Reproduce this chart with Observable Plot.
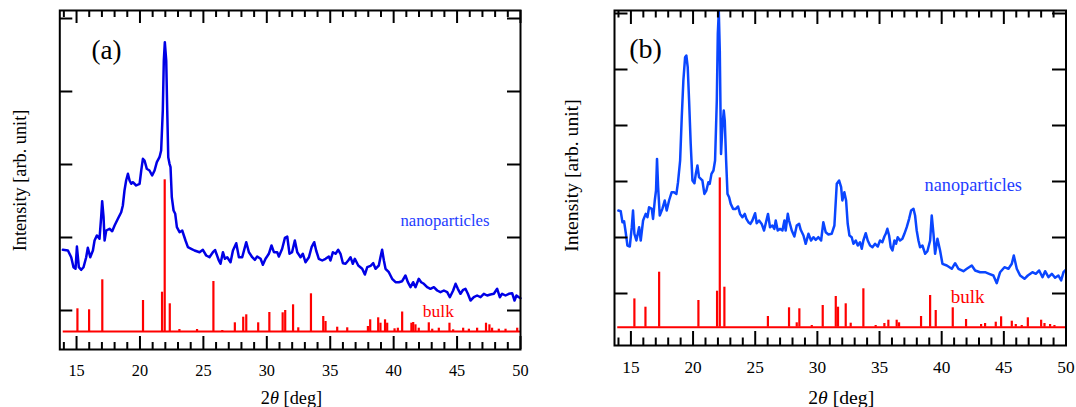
<!DOCTYPE html>
<html><head><meta charset="utf-8">
<script src="https://cdn.jsdelivr.net/npm/d3@7"></script>
<script src="https://cdn.jsdelivr.net/npm/@observablehq/plot@0.6"></script>
<style>
body{margin:0;background:#fff;}
#wrap{position:relative;width:1076px;height:407px;overflow:hidden;background:#fff;}
#wrap svg{position:absolute;top:0;font-family:'Liberation Serif','Times New Roman',serif;}
#wrap svg text{font-family:'Liberation Serif','Times New Roman',serif;}
</style></head><body><div id="wrap"></div>
<script>
// x axis (2θ in degrees)
const majorTicks = [15,20,25,30,35,40,45,50];
const minorTicks = [14,16,17,18,19,21,22,23,24,26,27,28,29,31,32,33,34,36,37,38,39,41,42,43,44,46,47,48,49];
const tickLabels = ["15","20","25","30","35","40","45","50"];

// Panel (a): nanoparticles pattern [2θ, intensity]
const nanoA = [[13.92,81.7],[14.32,81],[14.58,74.3],[14.76,64.3],[14.92,62.7],[15.03,85],[15.18,64.3],[15.37,61.7],[15.55,64.3],[15.76,74.3],[15.89,83.7],[16.08,74.3],[16.29,81],[16.42,91],[16.6,96],[16.81,92.7],[16.94,114.3],[17.02,130.3],[17.13,114.3],[17.21,91],[17.34,101],[17.6,102.7],[17.81,100.3],[18,106],[18.26,112.7],[18.52,119.3],[18.65,126],[18.78,141],[18.91,151],[19.05,157.7],[19.18,151],[19.31,147.7],[19.44,149.3],[19.7,146],[19.97,147.7],[20.1,161],[20.23,172.7],[20.36,171],[20.54,162.7],[20.75,161],[20.96,156],[21.15,161],[21.33,169.3],[21.54,174.3],[21.67,181],[21.8,221],[21.88,271],[21.96,289.3],[22.07,271],[22.15,221],[22.23,174.3],[22.33,167.7],[22.41,164.3],[22.51,134.3],[22.65,121],[22.78,117.7],[22.91,104.3],[23.12,99.3],[23.33,101],[23.59,91],[23.78,84.3],[24.04,82.7],[24.3,81],[24.7,79.3],[24.96,81.7],[25.22,76],[25.48,74.3],[25.75,79.3],[25.92,81.5],[26.22,71],[26.35,67.7],[26.54,79.3],[26.7,72.7],[26.88,74.3],[27.14,69.3],[27.33,81],[27.59,88.3],[27.8,74.3],[28.06,74.3],[28.38,89.3],[28.59,79.3],[28.85,74.3],[29.06,71.7],[29.24,75],[29.51,72.7],[29.69,66.7],[29.9,72.7],[30.16,77.7],[30.37,86],[30.56,79.3],[30.82,79.3],[30.95,75],[31.21,82.7],[31.43,93.7],[31.61,95],[31.79,77.7],[31.99,79.3],[32.21,91],[32.4,79.3],[32.66,74.3],[32.84,77.7],[33.05,69.3],[33.32,74.3],[33.53,84.3],[33.74,89.3],[33.89,81],[34.1,72.7],[34.37,71],[34.63,72.7],[34.89,75],[35.02,71],[35.21,79.3],[35.42,77.7],[35.63,81.7],[35.81,77.7],[36,68.3],[36.21,67.7],[36.42,71],[36.6,74.3],[36.78,67.7],[36.94,72.7],[37.21,66],[37.52,62.7],[37.73,57],[37.92,64.3],[38.18,65.7],[38.39,68.3],[38.57,62.7],[38.83,66],[38.96,74.3],[39.09,81.7],[39.23,71],[39.36,62.7],[39.62,59.3],[39.88,52.7],[40.15,49.3],[40.41,49.3],[40.67,50.3],[40.93,56],[41.12,49.3],[41.33,44.3],[41.54,49.3],[41.72,44.3],[41.98,52.7],[42.17,49.3],[42.38,47.7],[42.64,44.3],[42.9,42.7],[43.17,44.3],[43.43,41],[43.69,39.3],[43.96,41],[44.22,39.3],[44.43,34.3],[44.69,41],[44.88,47.7],[45.06,42.7],[45.27,37.7],[45.48,41.7],[45.66,42.7],[45.85,37.7],[46.06,31],[46.32,34.3],[46.58,36],[46.85,34.3],[47.11,37.7],[47.37,36],[47.63,37],[47.9,37.7],[48.16,42.7],[48.37,34.3],[48.55,37.7],[48.82,36],[49.08,37.7],[49.34,38.3],[49.53,31],[49.68,36],[49.87,34.3],[50,33.3]];

// Panel (a): bulk reference peaks [2θ, height]
const bulkA = [[15.07,22.7],[15.99,21.7],[17.03,51.7],[20.24,31],[21.74,39.3],[21.95,151.7],[22.35,27.7],[23.11,2],[24.5,2],[25.79,50],[26.49,1],[27.48,8.7],[28.14,14.3],[28.38,16.7],[29.32,8.7],[30.2,19],[31.25,18.7],[31.45,21],[32.07,26.7],[32.48,3.7],[33.48,37.7],[34.45,15],[34.63,10],[35.55,4.3],[36.34,3.7],[37.97,5],[38.15,11.7],[38.78,13.7],[38.96,8.3],[39.32,11.7],[39.49,8.3],[40.07,2.7],[40.33,3.3],[40.67,19.5],[41.4,8.3],[41.54,9],[41.72,6.7],[41.98,3.3],[42.77,8.7],[43.04,2.3],[43.56,3.3],[44.4,8.3],[44.69,1.7],[45.48,3.3],[45.93,2.3],[46.58,3.3],[47.28,8.3],[47.55,6.7],[47.76,3.3],[48.29,2.3],[48.82,2.3],[49.74,3.3]];

// Panel (b): nanoparticles pattern [2θ, intensity]
const nanoB = [[13.99,116.7],[14.18,116],[14.32,105],[14.45,106],[14.58,95],[14.72,81.7],[14.91,80.7],[15.07,100],[15.17,116.7],[15.28,93.3],[15.44,86.7],[15.66,100],[15.79,86.7],[15.98,106.7],[16.19,113.3],[16.33,110],[16.46,120],[16.68,118.3],[16.78,108.3],[16.92,126.7],[17.02,136.7],[17.1,168.3],[17.19,140],[17.32,111.7],[17.53,118.3],[17.72,126.7],[17.88,116.7],[18.07,126.7],[18.28,135],[18.47,135],[18.66,133.3],[18.79,145],[18.96,166.7],[19.09,210],[19.22,246.7],[19.36,270],[19.46,271.7],[19.57,260],[19.68,226.7],[19.81,183.3],[19.95,146.7],[20.11,144],[20.22,153.3],[20.35,161.7],[20.48,150],[20.62,148.3],[20.75,146.7],[20.91,133.3],[21.07,136.7],[21.23,145],[21.34,143.3],[21.48,153.3],[21.64,156.7],[21.77,166.7],[21.91,226.7],[21.99,293.3],[22.07,316],[22.15,276.7],[22.25,173.3],[22.36,200],[22.47,216.7],[22.55,206.7],[22.66,166.7],[22.77,133.3],[22.9,130],[23.03,123.3],[23.22,118.3],[23.43,118.3],[23.62,120.7],[23.78,113.3],[23.97,110],[24.16,113.3],[24.29,108.3],[24.45,105],[24.61,103.3],[24.77,106.7],[24.99,114],[25.12,104],[25.31,106.7],[25.52,103.3],[25.71,96.7],[25.9,106.7],[26.03,113.3],[26.19,100],[26.38,101.7],[26.54,98.3],[26.65,106.7],[26.81,96.7],[27,98.3],[27.19,96.7],[27.35,106.7],[27.45,96.7],[27.62,113.4],[27.72,106.7],[27.94,96.7],[28.15,90.7],[28.34,101.7],[28.53,103.4],[28.66,97.4],[28.88,91.7],[29.06,83.4],[29.28,93.4],[29.49,86.7],[29.68,90],[29.87,87.4],[30.08,90],[30.3,86.7],[30.48,105],[30.67,95],[30.89,92.7],[31.15,93.4],[31.37,101.7],[31.56,143.4],[31.75,146.7],[31.91,140],[32.01,126.7],[32.17,135],[32.31,126.7],[32.44,103.4],[32.58,91.7],[32.76,90],[32.9,83.4],[33.09,86.7],[33.25,81.7],[33.43,85],[33.57,78.4],[33.7,86.7],[33.89,94],[34.05,86.7],[34.24,81.7],[34.43,80],[34.64,83.4],[34.86,80.7],[35.04,86.7],[35.23,85],[35.39,90.7],[35.5,93.4],[35.63,98.4],[35.77,91.7],[35.9,80],[36.04,76.7],[36.2,86.7],[36.33,83.4],[36.46,90],[36.65,86.7],[36.84,88.4],[37,93.4],[37.19,100],[37.38,108.4],[37.54,116.7],[37.73,118.4],[37.86,111.7],[37.99,96.7],[38.13,86.7],[38.26,80],[38.45,81.7],[38.67,73.4],[38.85,76],[39.07,86.7],[39.2,111.7],[39.34,93.4],[39.47,73.4],[39.66,88.4],[39.87,76.7],[40.06,63.4],[40.41,61.7],[40.81,58.4],[41.08,64],[41.35,58.4],[41.75,56],[42.02,58.4],[42.42,61.7],[42.69,56.7],[43.09,55],[43.49,55],[43.82,53.4],[44.16,51.7],[44.43,44],[44.7,55],[45.05,60],[45.37,58.4],[45.64,63.4],[45.8,71.7],[46.04,58.4],[46.31,51.7],[46.66,48.4],[46.93,51.7],[47.3,55],[47.57,53.4],[47.84,56.7],[48.11,50],[48.32,56],[48.59,50],[48.86,53.4],[49.12,49.4],[49.39,51.7],[49.61,46.7],[49.8,55],[49.98,57.4]];

// Panel (b): bulk reference peaks [2θ, height]
const bulkB = [[15.28,28.3],[16.17,20],[17.27,55],[20.43,26.7],[21.93,36],[22.15,149.3],[22.52,40],[26.02,10.7],[27.72,19.4],[28.34,4.4],[28.55,18.4],[29.55,1.7],[30.43,21.7],[31.48,30.7],[31.66,20],[32.28,23.4],[32.68,4],[33.7,38.4],[34.69,1.7],[35.39,3.7],[35.71,7],[36.38,7],[36.57,4.4],[38.34,10.7],[39.07,31.7],[39.52,16.7],[40.89,19.4],[41.96,7.7],[43.17,2.7],[43.49,3.7],[44.35,5],[44.78,10.4],[45.64,6],[45.96,2.7],[46.44,1.7],[46.93,9.4],[48,7],[48.27,3.7],[48.72,2.7],[49.07,1.7]];

// unlabeled intensity ticks (arb. units)
const yTicksA = [21,94,167,240,313];
const yTicksB = [33.7,89.7,145.7,201.7,257.7,313.7];

const xDomain = [13.68, 50];
const RED = "#ff0000";
const FONT = "'Liberation Serif','Times New Roman',serif";

function panel(o) {
  const H = o.height - o.mt - o.mb;
  const W = o.width - o.ml - o.mr;
  const cx = o.ml + W / 2;
  const svg = Plot.plot({
    width: o.width, height: o.height,
    marginLeft: o.ml, marginRight: o.mr, marginTop: o.mt, marginBottom: o.mb,
    style: {fontFamily: FONT, background: "white", color: "black"},
    x: {domain: xDomain},
    y: {domain: o.yDomain, axis: null},
    marks: [
      Plot.ruleY([0], {x1: o.bulkStart, x2: 50, stroke: RED, strokeWidth: 2}),
      Plot.ruleX(o.bulk, {x: d => d[0], y1: 0, y2: d => d[1], stroke: RED, strokeWidth: 2.2}),
      Plot.line(o.nano, {x: d => d[0], y: d => d[1], stroke: o.blue, strokeWidth: 2.5, strokeLinejoin: "round"}),
      // inward ticks: bottom/top majors & minors
      Plot.ruleX(majorTicks, {x: d => d, insetTop: H - o.majLen, stroke: "black", strokeWidth: 2}),
      Plot.ruleX(minorTicks, {x: d => d, insetTop: H - o.minLen, stroke: "black", strokeWidth: 2}),
      Plot.ruleX(majorTicks, {x: d => d, insetBottom: H - o.majLen, stroke: "black", strokeWidth: 2}),
      Plot.ruleX(minorTicks, {x: d => d, insetBottom: H - o.minLen, stroke: "black", strokeWidth: 2}),
      // inward ticks: left/right
      Plot.ruleY(o.yTicks, {y: d => d, insetRight: W - o.yLen, stroke: "black", strokeWidth: 2}),
      Plot.ruleY(o.yTicks, {y: d => d, insetLeft: W - o.yLen, stroke: "black", strokeWidth: 2}),
      Plot.frame({stroke: "black", strokeWidth: 2}),
      Plot.axisX(majorTicks, {anchor: "bottom", tickSize: 0, tickPadding: o.tickPad, fontSize: o.tickFont, fontFamily: FONT, tickFormat: (d) => tickLabels[majorTicks.indexOf(d)], label: null}),
      Plot.text([o.tag], {frameAnchor: "top-left", textAnchor: "start", lineAnchor: "middle", dx: o.tagDx, dy: o.tagDy, fontSize: o.tagFont, fontFamily: FONT, fill: "black"}),
      Plot.text(["nanoparticles"], {frameAnchor: "top-left", textAnchor: "start", lineAnchor: "middle", dx: o.nDx, dy: o.nDy, fontSize: o.lblFont, fontFamily: FONT, fill: "#1e3cff"}),
      Plot.text(["bulk"], {frameAnchor: "top-left", textAnchor: "start", lineAnchor: "middle", dx: o.bDx, dy: o.bDy, fontSize: o.bulkFont, fontFamily: FONT, fill: RED}),
      Plot.text(["Intensity [arb. unit]"], {frameAnchor: "middle", textAnchor: "middle", rotate: -90, lineAnchor: "middle", dx: o.yLblX - cx, dy: o.yLblY - (o.mt + H / 2), fontSize: o.axFont, fontFamily: FONT, fill: "black"}),
      Plot.text(["2θ [deg]"], {frameAnchor: "bottom", textAnchor: "middle", lineAnchor: "middle", dx: o.xLblX - cx, dy: o.xLblDy, fontSize: o.axFont, fontFamily: FONT, fill: "black"})
    ]
  });
  svg.style.left = o.left + "px";
  // italic theta in x label
  svg.querySelectorAll("text").forEach(t => {
    if (t.textContent === "2θ [deg]") {
      const ns = "http://www.w3.org/2000/svg";
      while (t.firstChild) t.removeChild(t.firstChild);
      const a = document.createElementNS(ns, "tspan"); a.textContent = "2";
      const b = document.createElementNS(ns, "tspan"); b.textContent = "θ"; b.setAttribute("font-style", "italic");
      const c = document.createElementNS(ns, "tspan"); c.textContent = " [deg]";
      t.append(a, b, c);
    }
  });
  return svg;
}

const wrap = document.getElementById("wrap");
wrap.append(panel({
  left: 0, width: 540, height: 407, ml: 59.3, mr: 20, mt: 10, mb: 58,
  yDomain: [-18, 321], yTicks: yTicksA, nano: nanoA, bulk: bulkA, bulkStart: 13.95,
  blue: "#0000e6", majLen: 13, minLen: 7, yLen: 13, tickPad: 15, tickFont: 16.3,
  tag: "(a)", tagDx: 31.7, tagDy: 40, tagFont: 27,
  nDx: 340.7, nDy: 210.5, lblFont: 16.7, bDx: 363, bDy: 300.7, bulkFont: 17.5,
  yLblX: 20, yLblY: 180, xLblX: 291, xLblDy: 49, axFont: 18.3
}));
wrap.append(panel({
  left: 540, width: 536, height: 407, ml: 74, mr: 10.5, mt: 10, mb: 62,
  yDomain: [-18.3, 316.7], yTicks: yTicksB, nano: nanoB, bulk: bulkB, bulkStart: 13.94,
  blue: "#0a46ff", majLen: 14, minLen: 7.5, yLen: 13.5, tickPad: 15.5, tickFont: 17.3,
  tag: "(b)", tagDx: 14.7, tagDy: 38.3, tagFont: 28,
  nDx: 310, nDy: 175, lblFont: 18.3, bDx: 336.3, bDy: 286.7, bulkFont: 19,
  yLblX: 31, yLblY: 175, xLblX: 300.7, xLblDy: 52, axFont: 19.7
}));
</script>
</body></html>
